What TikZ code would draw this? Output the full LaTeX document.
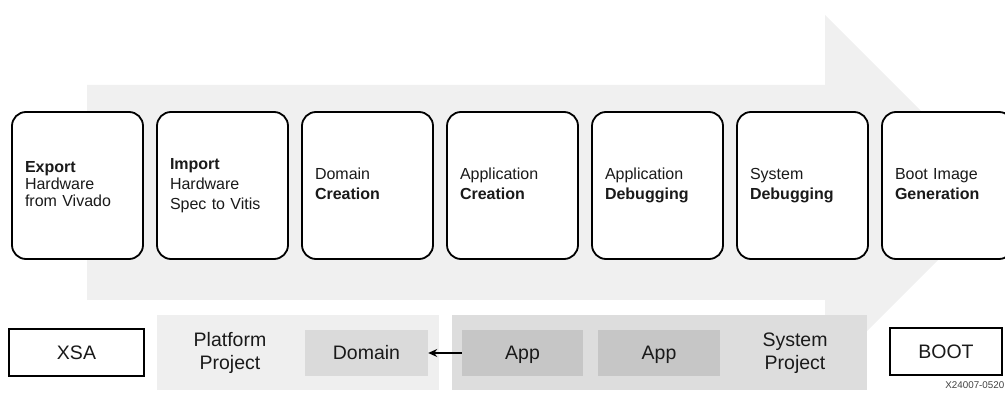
\documentclass[tikz,border=0pt]{standalone}
\usepackage{fontspec}
\setmainfont{Liberation Sans}
\usetikzlibrary{arrows.meta}
\definecolor{flowgray}{HTML}{F0F0F0}
\definecolor{platgray}{HTML}{EFEFEF}
\definecolor{domgray}{HTML}{DADADA}
\definecolor{sysgray}{HTML}{DDDDDD}
\definecolor{appgray}{HTML}{C6C6C6}
\definecolor{inkdark}{HTML}{1A1A1A}
\tikzset{
  stepbox/.style={draw=black, line width=1.8pt, rounded corners=14pt, fill=white,
    minimum width=131pt, minimum height=147pt, text width=105pt, inner xsep=13pt,
    align=left, text=inkdark, font=\fontsize{16}{20}\selectfont,
    execute at begin node=\strut, execute at end node=\strut},
  filebox/.style={draw=black, line width=2.6pt, fill=white, minimum height=47pt,
    text height=14pt, text depth=0pt,
    text=inkdark, font=\fontsize{19.5}{23}\selectfont},
  container/.style={draw=none, minimum height=75pt},
  itembox/.style={draw=none, minimum width=122pt, minimum height=46pt,
    text height=14pt, text depth=0pt,
    text=inkdark, font=\fontsize{19.5}{23}\selectfont},
  grouplabel/.style={align=center, text=inkdark, font=\fontsize{19.5}{23}\selectfont},
  linkarrow/.style={draw=black, line width=1.3pt, -{Stealth[length=9pt,width=8pt]}}
}
\begin{document}
\begin{tikzpicture}[x=1pt,y=-1pt]
\useasboundingbox (0,0) rectangle (1005,395);
\clip (0,0) rectangle (1005,395);

% flow arrow in the background
\fill[flowgray] (87,85) -- (825,85) -- (825,15) -- (1004,194) -- (825,373)
  -- (825,300) -- (87,300) -- cycle;

% process steps
\node[stepbox] (s1) at (77.5,185.5) {\textbf{Export}\\[-3.3pt]Hardware\\[-3.3pt]from Vivado};
\node[stepbox] (s2) at (222.5,185.5) {\textbf{Import}\\Hardware\\Spec to Vitis};
\node[stepbox] (s3) at (367.5,185.5) {Domain\\\textbf{Creation}};
\node[stepbox] (s4) at (512.5,185.5) {Application\\\textbf{Creation}};
\node[stepbox] (s5) at (657.5,185.5) {Application\\\textbf{Debugging}};
\node[stepbox] (s6) at (802.5,185.5) {System\\\textbf{Debugging}};
\node[stepbox] (s7) at (947.5,185.5) {Boot Image\\\textbf{Generation}};

% artifacts and projects
\node[filebox, minimum width=135pt] (xsa) at (76.5,352.5) {XSA};

\node[container, fill=platgray, minimum width=282pt] (plat) at (298,352.5) {};
\node[grouplabel] (platlbl) at (230,353) {Platform\\Project};
\node[itembox, fill=domgray, minimum width=123pt] (dom) at (366.5,353) {Domain};

\node[container, fill=sysgray, minimum width=415pt] (sys) at (659.5,352.5) {};
\node[itembox, fill=appgray, minimum width=121pt] (app1) at (522.5,353) {App};
\node[itembox, fill=appgray, minimum width=122pt] (app2) at (659,353) {App};
\node[grouplabel] (syslbl) at (795,353) {System\\Project};

\node[filebox, minimum width=112pt] (boot) at (946,351.5) {BOOT};

\draw[linkarrow] (app1.west) -- (dom.east);

\node[anchor=base east, text=black!75, font=\fontsize{9.8}{11}\selectfont, inner sep=0pt]
  (figid) at (1004.5,389) {X24007-0520};
\end{tikzpicture}
\end{document}
